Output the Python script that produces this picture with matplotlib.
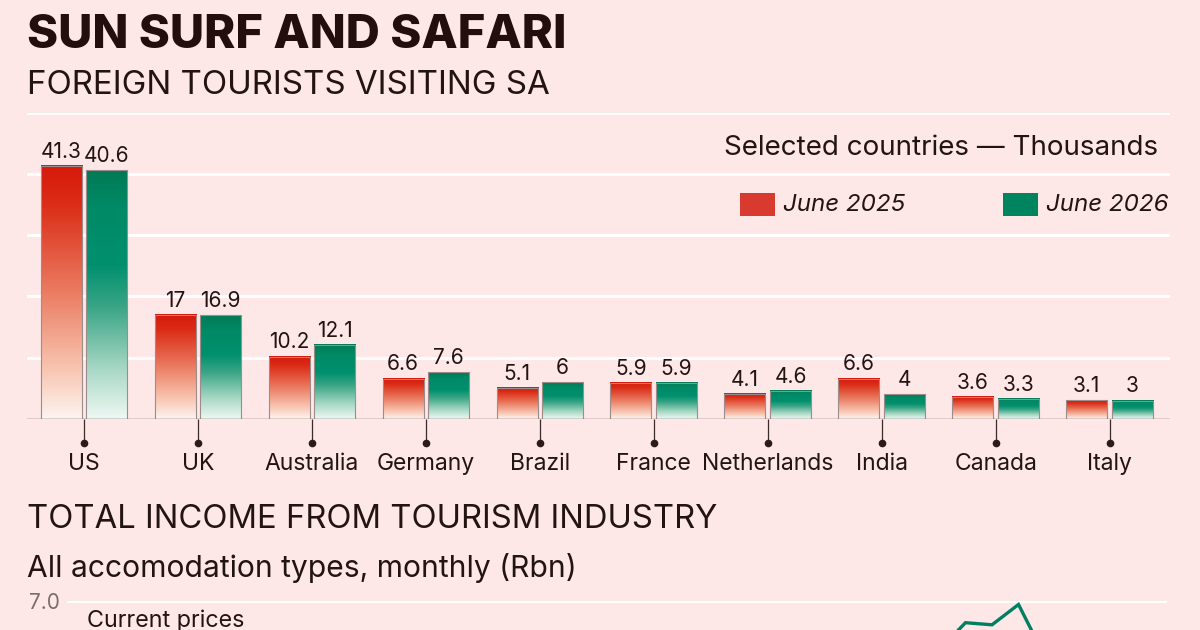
import numpy as np
import matplotlib
matplotlib.use("Agg")
import matplotlib.pyplot as plt
from matplotlib.colors import LinearSegmentedColormap
from matplotlib.patches import Rectangle
from matplotlib.transforms import offset_copy

plt.rcParams['font.family'] = ['Inter', 'DejaVu Sans']

# data: foreign tourists visiting SA, thousands
countries = ['US', 'UK', 'Australia', 'Germany', 'Brazil', 'France',
             'Netherlands', 'India', 'Canada', 'Italy']
june_2025 = [41.3, 17, 10.2, 6.6, 5.1, 5.9, 4.1, 6.6, 3.6, 3.1]
june_2026 = [40.6, 16.9, 12.1, 7.6, 6, 5.9, 4.6, 4, 3.3, 3]

# data: total income from tourism, monthly (Rbn), only top of chart visible
income = [4.6, 4.4, 4.7, 4.5, 4.3, 4.6, 4.8, 4.9, 5.0, 5.1, 5.3, 6.1,
          5.0, 4.8, 5.1, 4.9, 4.7, 5.0, 5.2, 5.3, 5.4, 5.5, 5.8, 6.4,
          5.3, 5.1, 5.4, 5.2, 5.0, 5.4, 5.6, 5.8, 6.3, 6.69, 6.66, 6.95,
          6.2, 5.9, 6.0, 5.8, 5.7]

BG = '#fde7e7'
DARK = '#231414'
RED = '#d93a2f'
GREEN = '#00835f'

red_cmap = LinearSegmentedColormap.from_list('r', [
    (0.0, '#fdf4f0'), (0.2, '#f8c4b0'), (0.5, '#ea7c62'),
    (0.85, '#db2c16'), (1.0, '#d6190b')])
green_cmap = LinearSegmentedColormap.from_list('g', [
    (0.0, '#eef8f4'), (0.2, '#a8d8c5'), (0.45, '#3aa585'),
    (0.62, '#00906e'), (0.85, '#008a66'), (1.0, '#007a55')])

fig = plt.figure(figsize=(12, 6.3), dpi=100, facecolor=BG)
W, H = 1200, 630

# ---- top chart ----
ax = fig.add_axes([27 / W, 1 - 419 / H, (1170 - 27) / W, (419 - 112.7) / H])
ax.set_facecolor(BG)
x = np.arange(len(countries))
bw = 0.36
grad = np.linspace(0, 1, 256).reshape(-1, 1)

for vals, off, cmap in [(june_2025, -0.2, red_cmap), (june_2026, 0.2, green_cmap)]:
    for xi, v in zip(x, vals):
        x0 = xi + off - bw / 2
        ax.imshow(grad, cmap=cmap, origin='lower', aspect='auto',
                  extent=[x0, x0 + bw, 0, v], zorder=3, interpolation='bilinear')
        ax.annotate(f'{v:g}', (xi + off, v), xytext=(0, 3), textcoords='offset points',
                    ha='center', va='bottom', fontsize=15, color=DARK, zorder=5)
    ax.bar(x + off, vals, width=bw, facecolor='none', edgecolor='#9c8c8c',
           linewidth=0.8, zorder=4)

ax.set_xlim(-0.5, 9.53)
ax.set_ylim(0, 50)
ax.set_yticks([10, 20, 30, 40, 50])
ax.yaxis.grid(True, color='white', linewidth=2.2)
ax.set_axisbelow(True)
ax.tick_params(axis='y', length=0, labelleft=False)
for s in ax.spines.values():
    s.set_visible(False)
ax.axhline(0, color='#6b5a5a', linewidth=1.0, zorder=6)

ax.set_xticks(x)
ax.set_xticklabels(countries, fontsize=16.5, color=DARK)
ax.tick_params(axis='x', length=17.3, width=0.9, color='#3a2a2a', pad=7)
dot_tr = offset_copy(ax.transData, fig=fig, y=-24, units='dots')
ax.plot(x, np.zeros(len(x)), 'o', ms=4.5, color='#2a1a1a', transform=dot_tr, clip_on=False)

# titles
fig.text(27 / W, 1 - 36 / H, 'SUN SURF AND SAFARI', fontsize=34, fontweight='heavy',
         color='#230d0d', va='center', ha='left')
fig.text(27 / W, 1 - 85 / H, 'FOREIGN TOURISTS VISITING SA', fontsize=23.8,
         color=DARK, va='center', ha='left')
fig.text(1158 / W, 1 - 148 / H, 'Selected countries \u2014 Thousands', fontsize=20,
         color=DARK, va='center', ha='right')

# legend
for px, col, lab in [(740, RED, 'June 2025'), (1003, GREEN, 'June 2026')]:
    fig.add_artist(Rectangle((px / W, 1 - 216 / H), 35 / W, 23 / H,
                             transform=fig.transFigure, facecolor=col,
                             edgecolor='none'))
    fig.text((px + 43) / W, 1 - 205 / H, lab, fontsize=17.4, style='italic',
             color=DARK, va='center', ha='left')

# ---- bottom chart (cut off at the figure edge) ----
fig.text(27 / W, 1 - 520 / H, 'TOTAL INCOME FROM TOURISM INDUSTRY', fontsize=23.6,
         color=DARK, va='center', ha='left')
fig.text(27 / W, 1 - 568 / H, 'All accomodation types, monthly (Rbn)', fontsize=21.6,
         color=DARK, va='center', ha='left')

ax2 = fig.add_axes([67 / W, 0, 1100 / W, 29 / H])
ax2.patch.set_alpha(0)
ax2.plot(np.arange(len(income)), income, color='#008060', linewidth=2.4,
         solid_joinstyle='miter', zorder=3)
ax2.set_xlim(-0.887, 40.6)
ax2.set_ylim(7 - 29 / 70, 7)
ax2.set_yticks([7])
ax2.set_yticklabels(['7.0'])
ax2.yaxis.grid(True, color='white', linewidth=2.2)
ax2.set_axisbelow(True)
ax2.tick_params(axis='y', length=0, labelsize=15, labelcolor='#7a6f6f', pad=5)
ax2.tick_params(axis='x', length=0, labelbottom=False)
for s in ax2.spines.values():
    s.set_visible(False)
fig.text(87 / W, 1 - 621 / H, 'Current prices', fontsize=16.8,
         color=DARK, va='center', ha='left')

fig.savefig('out.png', dpi=100, facecolor=BG)
